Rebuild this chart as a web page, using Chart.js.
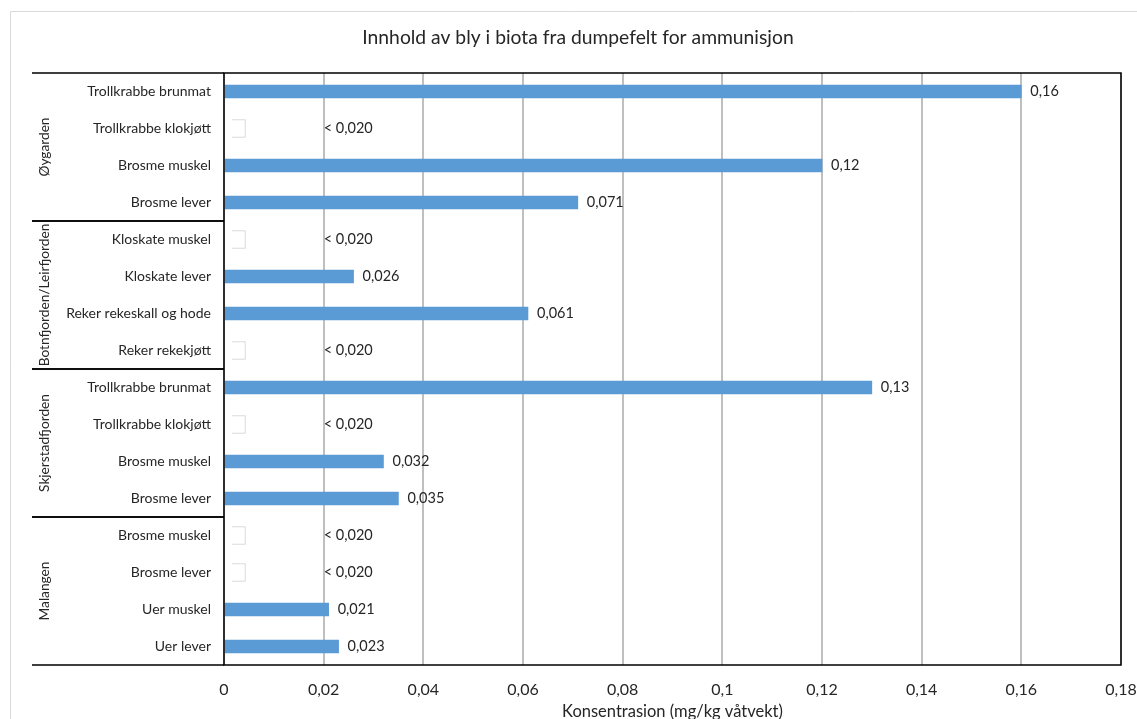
<!DOCTYPE html>
<html>
<head>
<meta charset="utf-8">
<script src="https://cdn.jsdelivr.net/npm/chart.js@4.4.1/dist/chart.umd.min.js"></script>
<style>
  html, body { margin: 0; padding: 0; background: #fff; }
  canvas { display: block; }
</style>
</head>
<body>
<canvas id="blyChart" width="1137" height="719"></canvas>
<script>
// ======= données =======
const groups = ['Øygarden', 'Botnfjorden/Leirfjorden', 'Skjerstadfjorden', 'Malangen']
const groupSizes = [4, 4, 4, 4]
const categories = [
  'Trollkrabbe brunmat', 'Trollkrabbe klokjøtt', 'Brosme muskel', 'Brosme lever',
  'Kloskate muskel', 'Kloskate lever', 'Reker rekeskall og hode', 'Reker rekekjøtt',
  'Trollkrabbe brunmat', 'Trollkrabbe klokjøtt', 'Brosme muskel', 'Brosme lever',
  'Brosme muskel', 'Brosme lever', 'Uer muskel', 'Uer lever'
]
// null = under deteksjonsgrensen
const values = [0.16, null, 0.12, 0.071, null, 0.026, 0.061, null, 0.13, null, 0.032, 0.035, null, null, 0.021, 0.023]
const valueLabels = ['0,16', '< 0,020', '0,12', '0,071', '< 0,020', '0,026', '0,061', '< 0,020',
  '0,13', '< 0,020', '0,032', '0,035', '< 0,020', '< 0,020', '0,021', '0,023']
const loq = 0.020
const xTickLabels = ['0', '0,02', '0,04', '0,06', '0,08', '0,1', '0,12', '0,14', '0,16', '0,18']

const FONT = 'Lato, Calibri, sans-serif'
const TXT = '#262626'

// petite boîte blanche pour les valeurs < LOQ
const markerRange = [0.0016, 0.0043]

// ======= plugin : cadre, groupes, étiquettes =======
const decorPlugin = {
  id: 'decor',
  beforeDraw (chart) {
    const c = chart.ctx
    c.save()
    c.strokeStyle = '#d9d9d9'
    c.lineWidth = 1
    c.beginPath()
    c.moveTo(10.5, 719)
    c.lineTo(10.5, 11.5)
    c.lineTo(1137, 11.5)
    c.stroke()
    c.restore()
  },
  afterDraw (chart) {
    const c = chart.ctx
    const a = chart.chartArea
    const xs = chart.scales.x
    const ys = chart.scales.y
    c.save()

    // titre
    c.fillStyle = TXT
    c.font = '19.3px ' + FONT
    c.textAlign = 'center'
    c.textBaseline = 'middle'
    c.fillText('Innhold av bly i biota fra dumpefelt for ammunisjon', 578, 38)

    // titre axe x
    c.font = '16.5px ' + FONT
    c.fillText('Konsentrasion (mg/kg våtvekt)', (a.left + a.right) / 2, 712)

    // cadre de la zone de tracé
    c.strokeStyle = '#000'
    c.lineWidth = 1.5
    c.strokeRect(a.left, a.top, a.right - a.left, a.bottom - a.top)

    // séparateurs et noms de groupes
    let start = 0
    const step = ys.getPixelForValue(1) - ys.getPixelForValue(0)
    groups.forEach((g, gi) => {
      const end = start + groupSizes[gi] - 1
      const top = ys.getPixelForValue(start) - step / 2
      const bottom = ys.getPixelForValue(end) + step / 2
      c.beginPath()
      c.moveTo(32, top)
      c.lineTo(a.left, top)
      c.moveTo(32, bottom)
      c.lineTo(a.left, bottom)
      c.stroke()
      c.save()
      c.translate(45, (top + bottom) / 2)
      c.rotate(-Math.PI / 2)
      c.fillStyle = TXT
      c.font = '13.7px ' + FONT
      c.textAlign = 'center'
      c.textBaseline = 'middle'
      c.fillText(g, 0, 0)
      c.restore()
      start = end + 1
    })

    // étiquettes de valeurs
    c.fillStyle = TXT
    c.font = '14.5px ' + FONT
    c.textAlign = 'left'
    c.textBaseline = 'middle'
    categories.forEach((cat, i) => {
      const y = ys.getPixelForValue(i)
      const x = values[i] !== null ? xs.getPixelForValue(values[i]) + 9 : xs.getPixelForValue(loq)
      c.fillText(valueLabels[i], x, y)
    })
    c.restore()
  }
}

const ctx = document.getElementById('blyChart')
const blyChart = new Chart(ctx.getContext('2d'), {
  type: 'bar',
  data: {
    labels: categories,
    datasets: [
      {
        label: 'Bly',
        data: values,
        backgroundColor: '#5b9bd5',
        borderWidth: 0,
        barThickness: 13,
        grouped: false
      },
      {
        label: '< LOQ',
        data: values.map(v => (v === null ? markerRange : null)),
        backgroundColor: '#ffffff',
        borderColor: '#d0d0d0',
        borderWidth: 1,
        barThickness: 18,
        grouped: false
      }
    ]
  },
  options: {
    indexAxis: 'y',
    responsive: false,
    animation: false,
    layout: { padding: { top: 73, right: 16, left: 0, bottom: 0 } },
    plugins: {
      legend: { display: false },
      title: { display: false },
      tooltip: { enabled: false }
    },
    scales: {
      x: {
        min: 0,
        max: 0.18,
        ticks: {
          stepSize: 0.02,
          padding: 15,
          color: TXT,
          font: { size: 16, family: FONT },
          callback: (v, i) => xTickLabels[i]
        },
        grid: { color: '#bfbfbf', lineWidth: 2, drawTicks: false },
        border: { display: false },
        afterFit: s => { s.height = 54; s.paddingLeft = 0; s.paddingRight = 0 }
      },
      y: {
        ticks: {
          padding: 13,
          color: TXT,
          font: { size: 14, family: FONT },
          autoSkip: false
        },
        grid: { display: false, drawTicks: false },
        border: { display: false },
        afterFit: s => { s.width = 224; s.paddingTop = 0; s.paddingBottom = 0 }
      }
    }
  },
  plugins: [decorPlugin]
})
</script>
</body>
</html>
